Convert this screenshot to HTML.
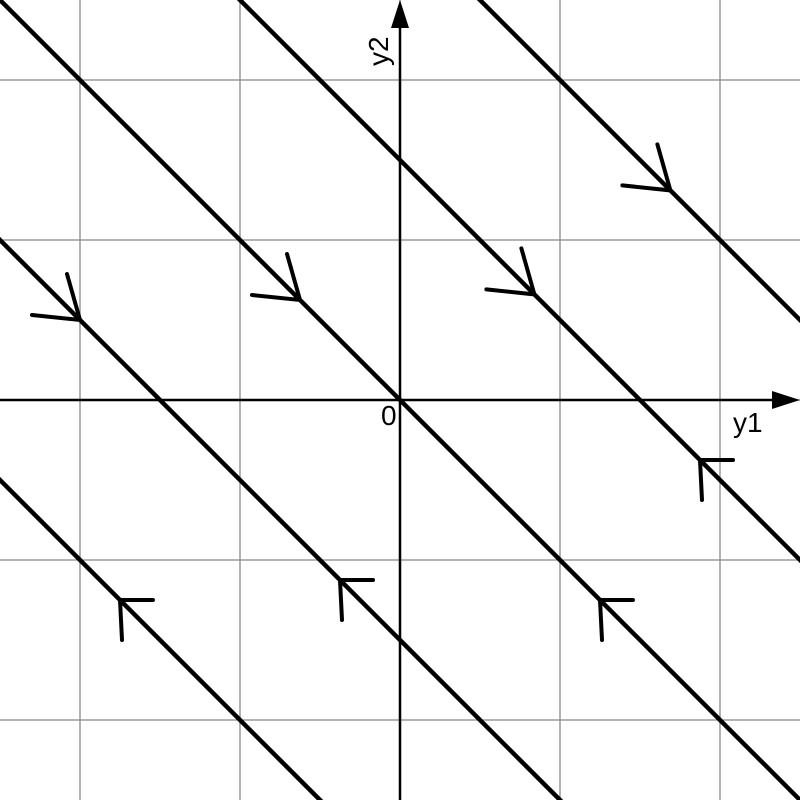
<!DOCTYPE html>
<html><head><meta charset="utf-8"><style>
html,body{margin:0;padding:0;background:#fff;width:800px;height:800px;overflow:hidden}
svg{display:block}
text{font-family:"Liberation Sans",sans-serif;font-size:28px;fill:#000}
</style></head><body>
<svg id="chart" width="800" height="800" viewBox="0 0 800 800" xmlns="http://www.w3.org/2000/svg">
<g id="grid"></g>
<g id="lines"></g>
<g id="arrows"></g>
<g>
<line x1="0" y1="400" x2="785" y2="400" stroke="#000" stroke-width="2.5"/>
<polygon points="800,400 772,391 772,409" fill="#000"/>
<line x1="400" y1="800" x2="400" y2="15" stroke="#000" stroke-width="2.5"/>
<polygon points="400,0 391,28 409,28" fill="#000"/>
<text x="733" y="432">y1</text>
<text transform="translate(388,66) rotate(-90)">y2</text>
<text x="381" y="425">0</text>
</g>
</svg>
<script>
const lineConstants = [-3, -1.5, 0, 1.5, 3];
const arrowY1 = [-0.625, 1.25, -2, -0.375, 0.84, 1.875, 1.69, -1.75];
const arrowC = [0, 0, -1.5, -1.5, 1.5, 1.5, 3, -3];
const arrowDir = [1, -1, 1, -1, 1, -1, 1, -1];
const ticks = [-2, -1, 0, 1, 2];
const NS = 'http://www.w3.org/2000/svg';
const sx = v => 400 + v * 160;
const sy = v => 400 - v * 160;
const grid = document.getElementById('grid');
ticks.forEach(t => {
  const a = document.createElementNS(NS, 'line');
  
  
  a.setAttribute('x1', sx(t)); a.setAttribute('x2', sx(t));
  a.setAttribute('y1', 0); a.setAttribute('y2', 800);
  a.setAttribute('stroke', '#888'); a.setAttribute('stroke-width', '1.3');
  grid.appendChild(a);
  const b = document.createElementNS(NS, 'line');
  
  
  b.setAttribute('y1', sy(t)); b.setAttribute('y2', sy(t));
  b.setAttribute('x1', 0); b.setAttribute('x2', 800);
  b.setAttribute('stroke', '#888'); b.setAttribute('stroke-width', '1.3');
  grid.appendChild(b);
});
const lines = document.getElementById('lines');
lineConstants.forEach(c => {
  const l = document.createElementNS(NS, 'line');
  
  
  l.setAttribute('x1', sx(-5)); l.setAttribute('y1', sy(5 + c));
  l.setAttribute('x2', sx(5)); l.setAttribute('y2', sy(-5 + c));
  l.setAttribute('stroke', '#000'); l.setAttribute('stroke-width', '4.5');
  lines.appendChild(l);
});
const arrows = document.getElementById('arrows');
arrowY1.forEach((y1, i) => {
  const x = sx(y1), y = sy(-y1 + arrowC[i]);
  const d = arrowDir[i];
  let ax, ay, bx, by;
  if (d > 0) {
    ax = x - 48; ay = y - 5; bx = x - 13; by = y - 46;
  } else {
    ax = x + 33; ay = y; bx = x + 2; by = y + 40;
  }
  const p = document.createElementNS(NS, 'path');
  
  
  p.setAttribute('d', `M${ax},${ay} L${x},${y} L${bx},${by}`);
  p.setAttribute('fill', 'none'); p.setAttribute('stroke', '#000');
  p.setAttribute('stroke-width', '4'); p.setAttribute('stroke-linecap', 'round');
  arrows.appendChild(p);
});
</script>
</body></html>
